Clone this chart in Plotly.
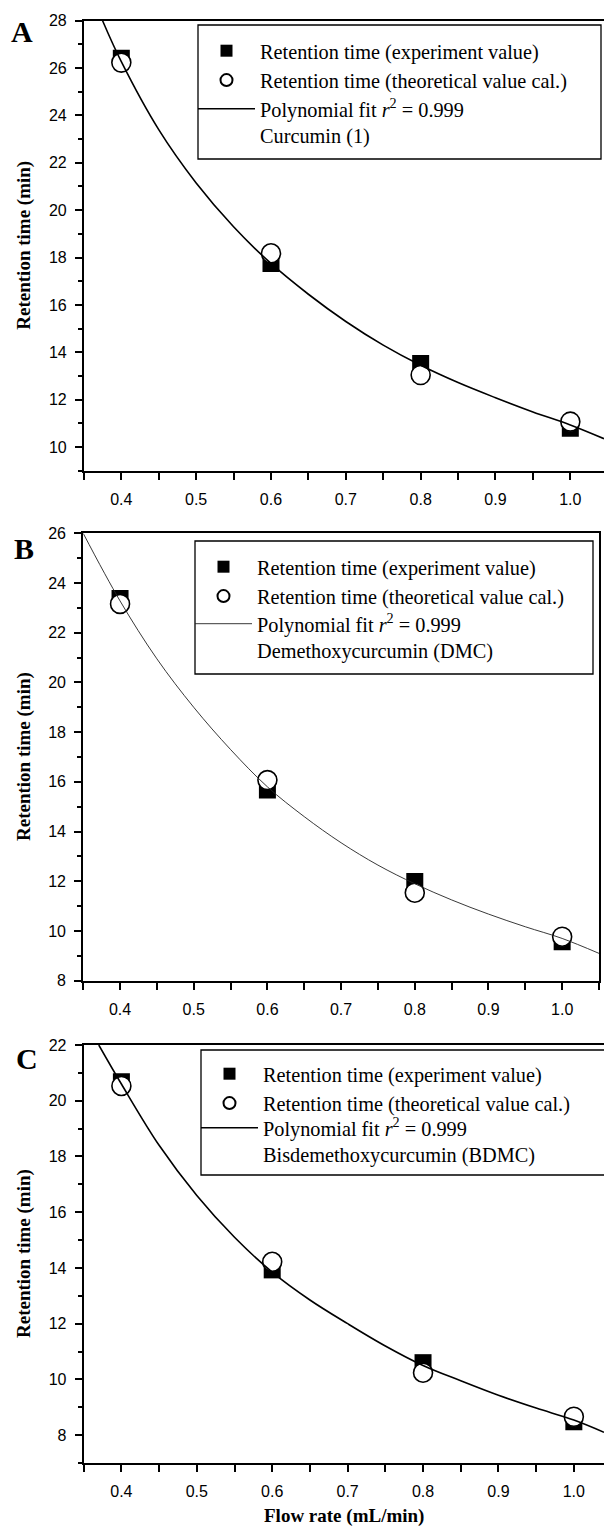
import plotly.graph_objects as go

# ---------------- data ----------------
flow = [0.4, 0.6, 0.8, 1.0]

a_exp = [26.41, 17.75, 13.53, 10.79]
a_theo = [26.23, 18.18, 13.04, 11.07]
a_fit_x = [0.375, 0.4, 0.45, 0.5, 0.55, 0.6, 0.65, 0.7, 0.75, 0.8, 0.85, 0.9, 0.95, 1.0, 1.045]
a_fit_y = [28.0, 26.27, 23.4, 21.15, 19.3, 17.75, 16.45, 15.3, 14.3, 13.45, 12.72, 12.08, 11.48, 10.93, 10.35]

b_exp = [23.38, 15.67, 11.99, 9.57]
b_theo = [23.16, 16.07, 11.54, 9.77]
b_fit_x = [0.35, 0.4, 0.45, 0.5, 0.55, 0.6, 0.65, 0.7, 0.75, 0.8, 0.85, 0.9, 0.95, 1.0, 1.05]
b_fit_y = [26.0, 23.28, 20.95, 19.0, 17.3, 15.8, 14.6, 13.55, 12.65, 11.9, 11.25, 10.68, 10.17, 9.7, 9.1]

c_exp = [20.68, 13.93, 10.6, 8.48]
c_theo = [20.53, 14.22, 10.24, 8.66]
c_fit_x = [0.37, 0.4, 0.45, 0.5, 0.55, 0.6, 0.65, 0.7, 0.75, 0.8, 0.85, 0.9, 0.95, 1.0, 1.04]
c_fit_y = [22.0, 20.6, 18.4, 16.6, 15.1, 13.85, 12.85, 12.0, 11.2, 10.5, 9.95, 9.43, 8.97, 8.54, 8.1]

compounds = ["Curcumin (1)", "Demethoxycurcumin (DMC)", "Bisdemethoxycurcumin (BDMC)"]
panel_letters = ["A", "B", "C"]
exp_name = "Retention time (experiment value)"
theo_name = "Retention time (theoretical value cal.)"
fit_name = "Polynomial fit <i>r</i><sup>2</sup> = 0.999"
y_title = "Retention time (min)"
x_title = "Flow rate (mL/min)"

# ---------------- layout helpers ----------------
W, H = 604, 1528
def fx(p):
    return p / W
def fy(p):
    return 1 - p / H

SERIF = "Times New Roman, Liberation Serif, serif"
SANS = "Arial, Liberation Sans, sans-serif"

panels = [
    dict(exp=a_exp, theo=a_theo, fitx=a_fit_x, fity=a_fit_y, xr=[0.35, 1.045], yr=[9, 28],
         xd=[83.9, 604], yd=[20.7, 470.7], lw=1.6, lc="black", ymirror=False,
         box=(198, 25, 601, 159), rows=(50, 108), letter=(22, 31)),
    dict(exp=b_exp, theo=b_theo, fitx=b_fit_x, fity=b_fit_y, xr=[0.35, 1.05], yr=[8, 26],
         xd=[83.2, 599], yd=[533.3, 980.7], lw=0.9, lc="#222222", ymirror=True,
         box=(195, 541, 593, 674), rows=(566, 623), letter=(24, 549)),
    dict(exp=c_exp, theo=c_theo, fitx=c_fit_x, fity=c_fit_y, xr=[0.35, 1.040], yr=[7, 22],
         xd=[83.7, 604], yd=[1045, 1463], lw=1.6, lc="black", ymirror=False,
         box=(201, 1050, 612, 1175), rows=(1073, 1127), letter=(27, 1058)),
]

fig = go.Figure()
annotations = []
shapes = []
layout = {}
ROW_OFF = 19
for i, p in enumerate(panels):
    n = "" if i == 0 else str(i + 1)
    xa, ya = "x" + n, "y" + n
    lg_m = "legend" + n
    lg_l = "legend" + str(i + 4)
    fig.add_trace(go.Scatter(x=flow, y=p["exp"], mode="markers", name=exp_name,
                             xaxis=xa, yaxis=ya, legend=lg_m,
                             marker=dict(symbol="square", size=17, color="black",
                                         line=dict(width=0))))
    fig.add_trace(go.Scatter(x=flow, y=p["theo"], mode="markers", name=theo_name,
                             xaxis=xa, yaxis=ya, legend=lg_m,
                             marker=dict(symbol="circle", size=19, color="white",
                                         line=dict(width=1.6, color="black"))))
    fig.add_trace(go.Scatter(x=p["fitx"], y=p["fity"], mode="lines",
                             name=fit_name + "<br>" + compounds[i],
                             xaxis=xa, yaxis=ya, legend=lg_l,
                             line=dict(color=p["lc"], width=p["lw"], shape="spline")))

    layout["xaxis" + n] = dict(
        domain=[fx(p["xd"][0]), fx(p["xd"][1])], range=p["xr"], anchor=ya,
        showline=True, linewidth=2, linecolor="black", mirror=True,
        ticks="outside", ticklen=7, tickwidth=1.5, tickcolor="black",
        tick0=0, dtick=0.1, tickformat=".1f",
        minor=dict(ticks="outside", ticklen=7, tickwidth=1.5, tickcolor="black", dtick=0.05, tick0=0),
        showgrid=False, zeroline=False, ticklabelstandoff=6, automargin=False,
        tickfont=dict(family=SANS, size=16, color="black"),
    )
    layout["yaxis" + n] = dict(
        domain=[fy(p["yd"][1]), fy(p["yd"][0])], range=p["yr"], anchor=xa,
        showline=True, linewidth=2, linecolor="black", mirror=p["ymirror"],
        ticks="outside", ticklen=7, tickwidth=1.5, tickcolor="black",
        tick0=0, dtick=2,
        minor=dict(ticks="outside", ticklen=4, tickwidth=1.5, tickcolor="black", dtick=1, tick0=0),
        showgrid=False, zeroline=False, ticklabelstandoff=5, automargin=False,
        tickfont=dict(family=SANS, size=16, color="black"),
    )
    bx0, by0, bx1, by1 = p["box"]
    shapes.append(dict(type="rect", xref="paper", yref="paper",
                       x0=fx(bx0), x1=fx(bx1), y0=fy(by1), y1=fy(by0),
                       line=dict(color="black", width=1.3), fillcolor="white", layer="above"))
    common = dict(xanchor="left", yanchor="top", bgcolor="rgba(0,0,0,0)", borderwidth=0,
                  font=dict(family=SERIF, size=20.3, color="black"),
                  itemwidth=57, valign="top", traceorder="normal")
    layout[lg_m] = dict(x=fx(bx0 - 5), y=fy(p["rows"][0] - ROW_OFF), itemsizing="constant", **common)
    layout[lg_l] = dict(x=fx(bx0 - 5), y=fy(p["rows"][1] - ROW_OFF), itemsizing="trace", **common)

    annotations.append(dict(text="<b>" + panel_letters[i] + "</b>", xref="paper", yref="paper",
                            x=fx(p["letter"][0]), y=fy(p["letter"][1]), xanchor="center",
                            yanchor="middle", showarrow=False,
                            font=dict(family=SERIF, size=30, color="black")))
    annotations.append(dict(text="<b>" + y_title + "</b>", xref="paper", yref="paper",
                            x=fx(24), y=fy((p["yd"][0] + p["yd"][1]) / 2), textangle=-90,
                            xanchor="center", yanchor="middle", showarrow=False,
                            font=dict(family=SERIF, size=19, color="black")))

annotations.append(dict(text="<b>" + x_title + "</b>", xref="paper", yref="paper",
                        x=fx(344), y=fy(1516), xanchor="center", yanchor="middle",
                        showarrow=False, font=dict(family=SERIF, size=19, color="black")))

fig.update_layout(
    width=W, height=H, margin=dict(l=0, r=0, t=0, b=0, autoexpand=False),
    plot_bgcolor="white", paper_bgcolor="white",
    annotations=annotations, shapes=shapes, showlegend=True,
    **layout,
)

fig.write_html("out.html",
               config={"displayModeBar": False},
               post_script="document.body.style.margin='0';document.body.style.overflow='hidden';")
